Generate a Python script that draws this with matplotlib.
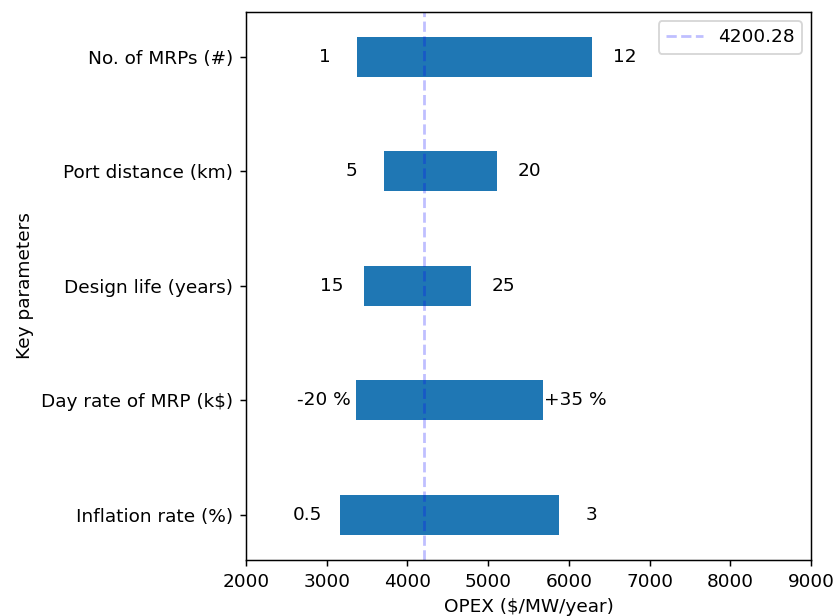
import numpy as np
import matplotlib
matplotlib.use('Agg')
import matplotlib.pyplot as plt

# sensitivity data (OPEX, $/MW/year)
params = ['Inflation rate (%)', 'Day rate of MRP (k$)', 'Design life (years)',
          'Port distance (km)', 'No. of MRPs (#)']
low_vals = [3162, 3360, 3460, 3708, 3373]
high_vals = [5882, 5683, 4789, 5112, 6292]
low_labels = ['0.5', '-20 %', '15', '5', '1']
high_labels = ['3', '+35 %', '25', '20', '12']
base = 4200.28

DPI = 133
fig = plt.figure(figsize=(835 / DPI, 616 / DPI), dpi=DPI)
ax = fig.add_axes([0.2946, 0.0909, 0.6766, 0.8901])

y = np.arange(len(params))
lo = np.array(low_vals)
hi = np.array(high_vals)
ax.barh(y, hi - lo, left=lo, height=0.35, color='tab:blue')

for i in range(len(params)):
    ax.text(lo[i] - 400, y[i], low_labels[i], ha='center', va='center')
    ax.text(hi[i] + 400, y[i], high_labels[i], ha='center', va='center')

ax.axvline(base, color='b', alpha=0.25, ls='--', label=f'{base:.2f}')
ax.legend(loc='upper right')

ax.set_yticks(y)
ax.set_yticklabels(params)
ax.set_xlim(2000, 9000)
ax.set_xlabel('OPEX ($/MW/year)')
ax.set_ylabel('Key parameters')

fig.savefig('out.png', dpi=DPI)
